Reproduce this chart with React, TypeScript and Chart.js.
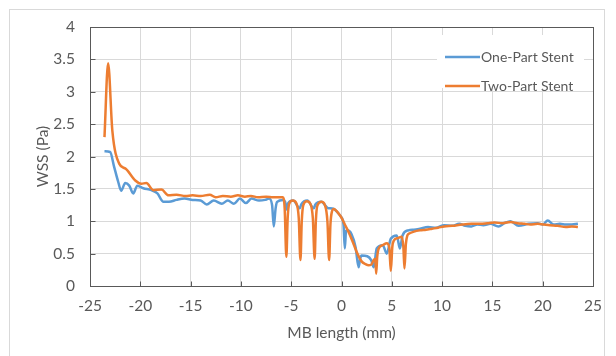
import React, { useEffect, useRef } from "react";
import { Chart, registerables } from "chart.js";

Chart.register(...registerables);

const seriesNames = ["One-Part Stent", "Two-Part Stent"];
const seriesColors = ["#5B9BD5", "#ED7D31"];

const oneX = [
  -23.56, -23.0, -22.6, -22.2, -21.9, -21.5, -21.1, -20.7, -20.3, -19.7, -18.9, -18.3,
  -17.7, -17.15, -16.4, -15.6, -14.8, -14.0, -13.4, -12.7, -11.9, -11.3, -10.7, -10.1,
  -9.5, -8.95, -8.2, -7.6, -7.2, -6.9, -6.73, -6.55, -6.4, -5.8, -5.6, -5.45, -5.3,
  -4.8, -4.15, -4.0, -3.4, -2.75, -2.6, -2.0, -1.3, -1.15, -0.76, -0.3, -0.06, 0.2,
  0.33, 0.45, 0.6, 1.0, 1.4, 1.7, 1.85, 2.0, 2.56, 2.95, 3.2, 3.5, 4.1, 4.5, 4.9, 5.5,
  5.8, 6.07, 6.65, 7.2, 7.8, 8.6, 9.4, 10.2, 11.0, 11.7, 12.3, 12.9, 13.5, 14.1, 14.8,
  15.6, 16.2, 16.8, 17.6, 18.6, 19.5, 20.0, 20.5, 21.1, 21.7, 22.3, 22.9, 23.5,
];
const oneY = [
  2.08, 2.07, 1.84, 1.61, 1.47, 1.59, 1.55, 1.43, 1.55, 1.51, 1.48, 1.43,
  1.30, 1.30, 1.33, 1.35, 1.33, 1.32, 1.26, 1.32, 1.27, 1.32, 1.27, 1.35,
  1.28, 1.35, 1.32, 1.33, 1.35, 1.25, 0.92, 1.2, 1.30, 1.33, 1.30, 1.18, 1.28,
  1.32, 1.2, 1.26, 1.32, 1.2, 1.26, 1.30, 1.2, 1.2, 1.19, 1.12, 1.07, 0.95,
  0.58, 0.85, 0.86, 0.80, 0.60, 0.29, 0.42, 0.47, 0.46, 0.40, 0.29, 0.58, 0.63, 0.50, 0.73, 0.78,
  0.58, 0.78, 0.86, 0.87, 0.885, 0.91, 0.90, 0.94, 0.93, 0.96, 0.93, 0.92, 0.95, 0.94, 0.96,
  0.92, 0.97, 1.00, 0.93, 0.96, 0.97, 0.95, 1.01, 0.95, 0.96, 0.95, 0.95, 0.96,
];

const twoX = [
  -23.56, -23.2, -22.78, -22.1, -21.45, -20.5, -19.9, -19.4, -18.7, -17.9, -17.2, -16.4,
  -15.5, -14.8, -14.0, -13.1, -12.5, -11.8, -11.0, -10.3, -9.6, -9.0, -8.3, -7.5, -6.8,
  -6.2, -5.83, -5.65, -5.48, -5.35, -5.2, -4.85, -4.5, -4.25, -4.08, -3.95, -3.8, -3.45,
  -3.1, -2.85, -2.67, -2.55, -2.4, -2.0, -1.65, -1.4, -1.23, -1.1, -0.95, -0.76, -0.5,
  -0.2, 0.02, 0.4, 0.8, 1.2, 1.58, 2.0, 2.36, 2.7, 2.95, 3.2, 3.35, 3.45, 3.55, 3.7, 4.1,
  4.5, 4.75, 4.9, 5.05, 5.2, 5.6, 6.0, 6.15, 6.26, 6.4, 6.55, 6.73, 7.2, 7.8, 8.4, 9.0,
  9.6, 10.2, 11.0, 12.0, 12.9, 13.8, 14.5, 15.2, 16.0, 16.8, 17.5, 18.2, 18.75, 19.5,
  20.1, 20.7, 21.5, 22.3, 22.9, 23.5,
];
const twoY = [
  2.30, 3.44, 2.40, 1.89, 1.81, 1.63, 1.58, 1.59, 1.48, 1.49, 1.40, 1.41,
  1.39, 1.40, 1.39, 1.41, 1.37, 1.39, 1.38, 1.40, 1.38, 1.39, 1.37, 1.38, 1.37,
  1.37, 1.37, 1.2, 0.45, 1.05, 1.27, 1.32, 1.28, 1.05, 0.40, 1.0, 1.25, 1.31,
  1.27, 1.05, 0.42, 1.0, 1.24, 1.30, 1.25, 1.0, 0.40, 0.95, 1.15, 1.19, 1.16,
  1.10, 1.05, 0.93, 0.80, 0.65, 0.50, 0.38, 0.34, 0.32, 0.33, 0.40, 0.42, 0.19, 0.45, 0.58, 0.63,
  0.66, 0.60, 0.23, 0.60, 0.70, 0.74, 0.76, 0.6, 0.27, 0.65, 0.78, 0.81, 0.84, 0.86, 0.87, 0.885,
  0.90, 0.92, 0.93, 0.95, 0.96, 0.96, 0.97, 0.98, 0.97, 0.99, 0.97, 0.96, 0.95, 0.96,
  0.95, 0.94, 0.93, 0.91, 0.92, 0.91,
];

const xTickValues = [-25, -20, -15, -10, -5, 0, 5, 10, 15, 20, 25];
const yTickValues = [0, 0.5, 1, 1.5, 2, 2.5, 3, 3.5, 4];

const xTitle = "MB length (mm)";
const yTitle = "WSS (Pa)";

const FONT = "Lato, 'Open Sans', sans-serif";
const FS = 15.5;
const LEGEND_FS = 14;
const TEXT = "#595959";

const framePlugin = {
  id: "framePlugin",
  beforeDraw(chart: any) {
    const { ctx, width, height } = chart;
    ctx.save();
    ctx.fillStyle = "#ffffff";
    ctx.fillRect(0, 0, width, height);
    ctx.strokeStyle = "#d9d9d9";
    ctx.lineWidth = 1;
    ctx.strokeRect(9.5, 9.5, 595, height + 20);
    ctx.restore();
  },
  afterDatasetsDraw(chart: any) {
    const { ctx, chartArea: a, scales } = chart;
    ctx.save();
    ctx.strokeStyle = "#595959";
    ctx.lineWidth = 1;
    const L = Math.round(a.left) + 0.5;
    const R = Math.round(a.right) + 0.5;
    const T = Math.round(a.top) + 0.5;
    const B = Math.round(a.bottom) + 0.5;
    ctx.strokeRect(L, T, R - L, B - T);
    ctx.beginPath();
    for (const v of yTickValues) {
      const y = Math.round(scales.y.getPixelForValue(v)) + 0.5;
      ctx.moveTo(L, y);
      ctx.lineTo(L + 5, y);
    }
    for (const v of xTickValues) {
      const x = Math.round(scales.x.getPixelForValue(v)) + 0.5;
      ctx.moveTo(x, B);
      ctx.lineTo(x, B - 5);
    }
    ctx.stroke();

    // legend inside plot
    const lx = a.right - 148;
    const ly = a.top + 19;
    ctx.fillStyle = "#ffffff";
    ctx.fillRect(lx - 8, ly - 11, 147, 53);
    ctx.font = `${LEGEND_FS}px ${FONT}`;
    ctx.textBaseline = "middle";
    ctx.textAlign = "left";
    seriesNames.forEach((name, i) => {
      const y = ly + 11 + i * 29;
      ctx.strokeStyle = seriesColors[i];
      ctx.lineWidth = 2.5;
      ctx.beginPath();
      ctx.moveTo(lx, y);
      ctx.lineTo(lx + 35, y);
      ctx.stroke();
      ctx.fillStyle = TEXT;
      ctx.fillText(name, lx + 36, y + 0.5);
    });
    ctx.restore();
  },
};

export default function App() {
  const ref = useRef<HTMLCanvasElement | null>(null);
  useEffect(() => {
    if (!ref.current) return;
    const chart = new Chart(ref.current, {
      type: "line",
      data: {
        datasets: [
          {
            label: seriesNames[0],
            data: oneX.map((x, i) => ({ x, y: oneY[i] })),
            borderColor: seriesColors[0],
            backgroundColor: seriesColors[0],
            borderWidth: 2.5,
            pointRadius: 0,
            cubicInterpolationMode: "monotone",
            order: 1,
          },
          {
            label: seriesNames[1],
            data: twoX.map((x, i) => ({ x, y: twoY[i] })),
            borderColor: seriesColors[1],
            backgroundColor: seriesColors[1],
            borderWidth: 2.5,
            pointRadius: 0,
            cubicInterpolationMode: "monotone",
            order: 0,
          },
        ],
      },
      options: {
        animation: false,
        responsive: false,
        maintainAspectRatio: false,
        layout: { padding: { left: 0, right: 23, top: 27, bottom: 0 } },
        plugins: { legend: { display: false }, tooltip: { enabled: false } },
        scales: {
          x: {
            type: "linear",
            min: -25,
            max: 25,
            afterFit: (s: any) => { s.height = 70; },
            afterBuildTicks: (s: any) => { s.ticks = xTickValues.map((v) => ({ value: v })); },
            ticks: {
              callback: (v: any) => String(v),
              color: TEXT,
              font: { family: FONT, size: FS },
              padding: 11,
              maxRotation: 0,
            },
            grid: { color: "#d9d9d9", drawTicks: false },
            border: { display: false },
            title: {
              display: true,
              text: xTitle,
              color: TEXT,
              font: { family: FONT, size: FS },
              padding: { top: 4, bottom: 14 },
            },
          },
          y: {
            type: "linear",
            min: 0,
            max: 4,
            afterFit: (s: any) => { s.width = 90; },
            afterBuildTicks: (s: any) => { s.ticks = yTickValues.map((v) => ({ value: v })); },
            ticks: {
              callback: (v: any) => String(v),
              color: TEXT,
              font: { family: FONT, size: FS },
              padding: 15,
            },
            grid: { color: "#d9d9d9", drawTicks: false },
            border: { display: false },
            title: {
              display: true,
              text: yTitle,
              color: TEXT,
              font: { family: FONT, size: FS },
              padding: { top: 34, bottom: 0 },
            },
          },
        },
      },
      plugins: [framePlugin],
    });
    return () => chart.destroy();
  }, []);
  return (
    <div style={{ position: "absolute", left: 0, top: 0, width: 616, height: 356 }}>
      <canvas ref={ref} width={616} height={356} style={{ width: 616, height: 356, display: "block" }} />
    </div>
  );
}
